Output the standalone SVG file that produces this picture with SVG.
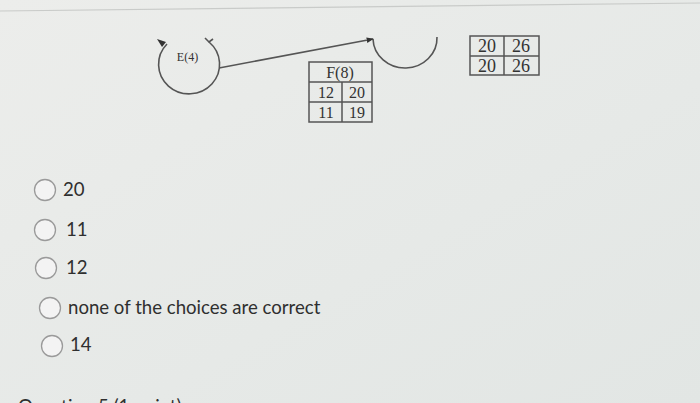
<svg xmlns="http://www.w3.org/2000/svg" width="700" height="403" viewBox="0 0 700 403">
<defs>
<linearGradient id="bg" x1="0" y1="0" x2="1" y2="1">
<stop offset="0" stop-color="#ecedeb"/>
<stop offset="0.6" stop-color="#e6e9e7"/>
<stop offset="1" stop-color="#e2e6e4"/>
</linearGradient>
<marker id="ah" viewBox="0 0 10 10" refX="9" refY="5" markerWidth="7" markerHeight="7" orient="auto" markerUnits="userSpaceOnUse">
<path d="M0,1 L10,5 L0,9 z" fill="#333"/>
</marker>
</defs>
<style>
.ln{fill:none;stroke:#555;stroke-width:1.6}
.cell{fill:none;stroke:#555;stroke-width:1.5}
.ser{font-family:"Liberation Serif","Times New Roman",serif;fill:#333;text-anchor:middle}
.opt{font-family:Lato,"Liberation Sans",sans-serif;font-size:18.6px;fill:#2f2f2f}
.rad{fill:#f3f3f3;stroke:#9a9a9a;stroke-width:1.3}
</style>
<rect width="700" height="403" fill="url(#bg)"/>
<line x1="0" y1="11" x2="700" y2="3" stroke="#c9cbc9" stroke-width="1.2"/>

<g id="nodeE">
<path class="ln" d="M167,44 A30.5,29.5 0 1 0 209,42"/>
<polygon points="157,39 166,42 162,47" fill="#333"/>
<path class="ln" d="M205,38 L209,42 L213,39" stroke-width="1.2"/>
<text class="ser" x="187.5" y="61" font-size="12">E(4)</text>
</g>

<g id="nodeG">
<path class="ln" d="M373,39 A32,30 0 0 0 437,37"/>
</g>

<g id="connectors">
<line class="ln" x1="219" y1="68" x2="373" y2="39" marker-end="url(#ah)"/>
</g>

<g id="nodeF">
<rect class="cell" x="309" y="62" width="63" height="60"/>
<line class="cell" x1="309" y1="82" x2="372" y2="82"/>
<line class="cell" x1="309" y1="102" x2="372" y2="102"/>
<line class="cell" x1="342" y1="82" x2="342" y2="122"/>
<text class="ser" x="340" y="78" font-size="16">F(8)</text>
<text class="ser" x="326" y="98" font-size="16">12</text>
<text class="ser" x="357" y="98" font-size="16">20</text>
<text class="ser" x="326" y="118" font-size="16">11</text>
<text class="ser" x="357" y="118" font-size="16">19</text>
</g>

<g id="tableRight">
<rect class="cell" x="470" y="36" width="69" height="39"/>
<line class="cell" x1="470" y1="56" x2="539" y2="56"/>
<line class="cell" x1="504" y1="36" x2="504" y2="75"/>
<text class="ser" x="487" y="52" font-size="18">20</text>
<text class="ser" x="521" y="52" font-size="18">26</text>
<text class="ser" x="487" y="72" font-size="18">20</text>
<text class="ser" x="521" y="72" font-size="18">26</text>
</g>

<g id="options">
<circle class="rad" cx="45" cy="190" r="10.5"/>
<text class="opt" x="63" y="196">20</text>
<circle class="rad" cx="45" cy="230" r="10.5"/>
<text class="opt" x="66" y="236">11</text>
<circle class="rad" cx="46" cy="268" r="10.5"/>
<text class="opt" x="66" y="274">12</text>
<circle class="rad" cx="50" cy="308" r="10.5"/>
<text class="opt" x="68" y="314">none of the choices are correct</text>
<circle class="rad" cx="52" cy="346" r="10.5"/>
<text class="opt" x="70" y="351">14</text>
</g>
<text class="opt" x="18" y="413">Question 5 (1 point)</text>
</svg>
